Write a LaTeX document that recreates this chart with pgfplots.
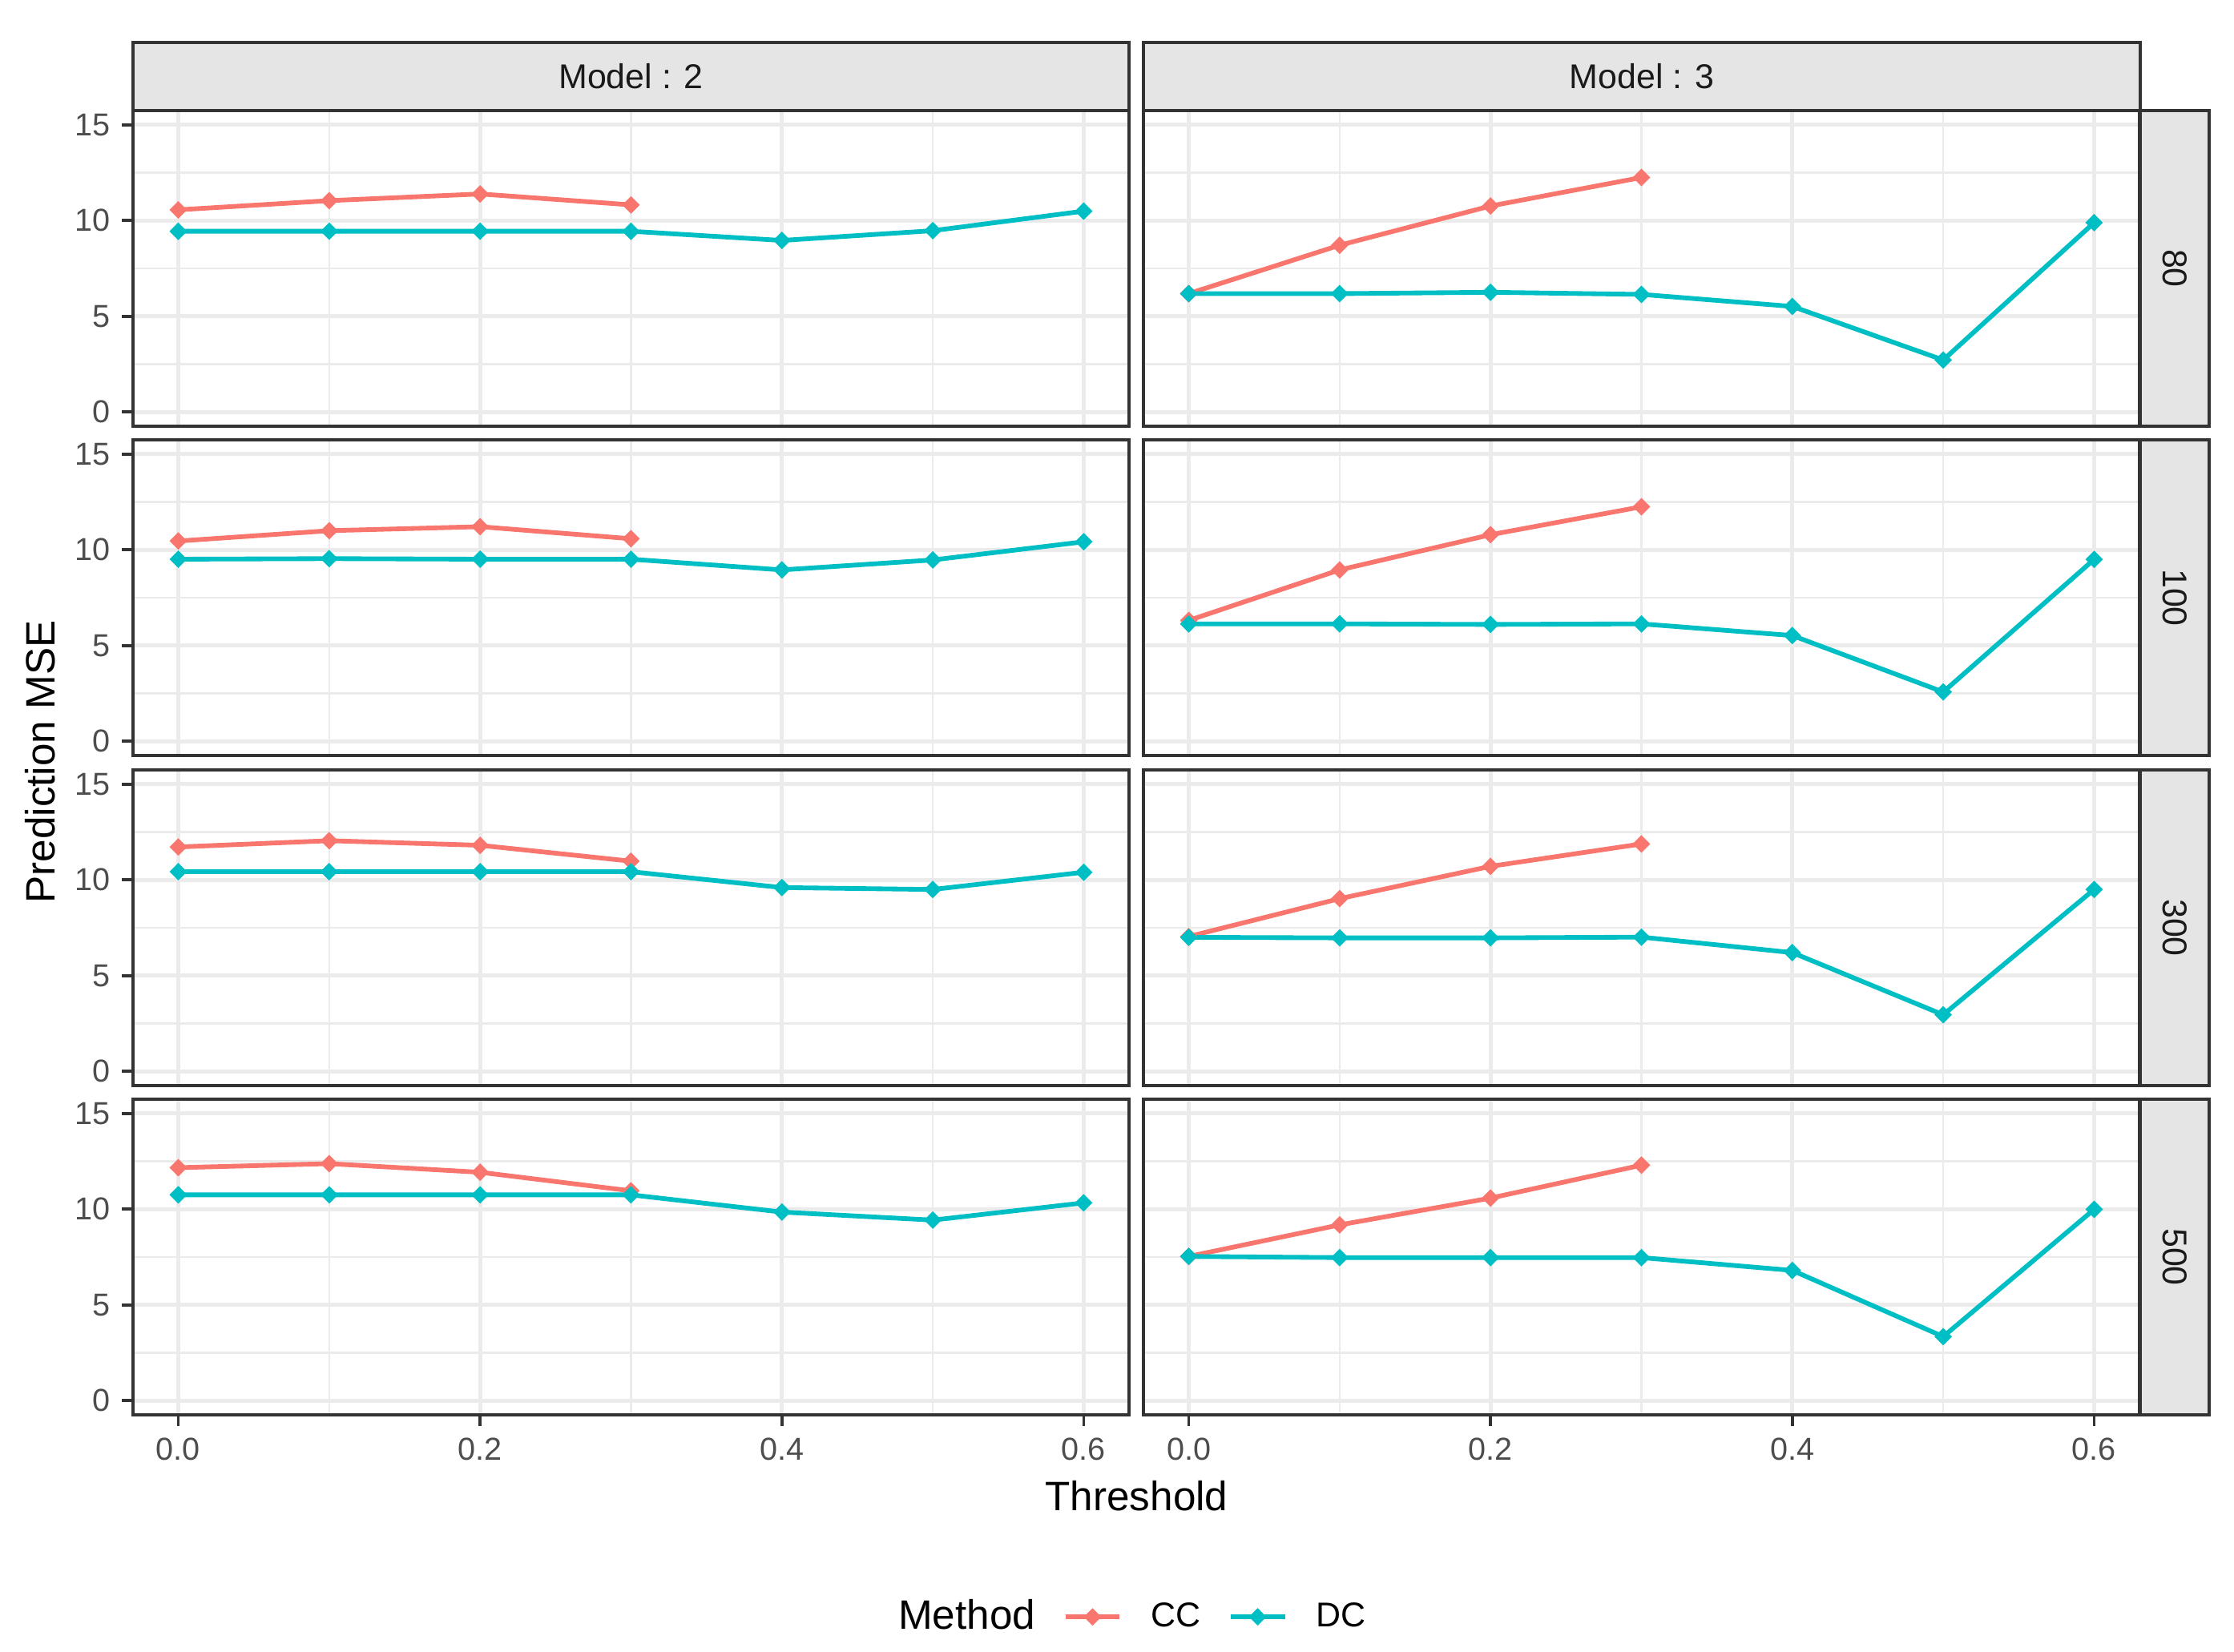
\documentclass[border=0pt]{standalone}
\usepackage{fontspec}
\setmainfont{Liberation Sans}
\usepackage{pgfplots}
\pgfplotsset{compat=1.18}

\definecolor{ccred}{HTML}{F8766D}
\definecolor{dccyan}{HTML}{00BFC4}
\definecolor{gridc}{HTML}{EBEBEB}
\definecolor{gray20}{HTML}{333333}
\definecolor{gray30}{HTML}{4D4D4D}
\definecolor{gray10}{HTML}{1A1A1A}
\definecolor{stripfill}{HTML}{E5E5E5}

\newcommand\tickfont{\fontsize{9.5}{11}\selectfont}
\newcommand\stripfont{\fontsize{10.3}{12}\selectfont}
\newcommand\titlefont{\fontsize{12.3}{14}\selectfont}

\pgfplotsset{
  panel/.style={
    scale only axis, width=298.3pt, height=94.56pt, anchor=north west,
    xmin=-0.03, xmax=0.63, ymin=-0.75, ymax=15.75,
    xtick={0,0.2,0.4,0.6}, ytick={0,5,10,15},
    minor xtick={0.1,0.3,0.5}, minor ytick={2.5,7.5,12.5},
    grid=both,
    major grid style={draw=gridc, line width=1.2pt},
    minor grid style={draw=gridc, line width=0.62pt},
    axis line style={draw=gray20, line width=0.9pt},
    xtick pos=bottom, ytick pos=left,
    tick align=outside, major tick length=3.3pt, minor tick length=0pt,
    tick style={draw=gray20, line width=0.9pt},
    /pgf/number format/assume math mode=true,
    ticklabel style={font=\tickfont, text=gray30},
    xticklabel style={/pgf/number format/.cd, fixed, fixed zerofill, precision=1},
  },
  inner x/.style={xmajorticks=false, xticklabels={}},
  inner y/.style={ymajorticks=false, yticklabels={}},
  ccline/.style={color=ccred, line width=1.4pt, mark=square*, mark size=1.8pt,
    mark options={rotate=45, solid, line width=0.1pt}},
  dcline/.style={color=dccyan, line width=1.4pt, mark=square*, mark size=1.8pt,
    mark options={rotate=45, solid, line width=0.1pt}},
}

\begin{document}
\begin{tikzpicture}
\path (0pt,0pt) rectangle (669.12pt,494.88pt);

% row 1: n = 80
\begin{axis}[panel, inner x, at={(39.84pt,461.76pt)}]
\addplot[ccline] coordinates {(0,10.56) (0.1,11.04) (0.2,11.39) (0.3,10.82)};
\addplot[dcline] coordinates {(0,9.44) (0.1,9.44) (0.2,9.44) (0.3,9.44) (0.4,8.96) (0.5,9.47) (0.6,10.49)};
\end{axis}
\begin{axis}[panel, inner x, inner y, at={(342.48pt,461.76pt)}]
\addplot[ccline] coordinates {(0,6.18) (0.1,8.71) (0.2,10.76) (0.3,12.25)};
\addplot[dcline] coordinates {(0,6.18) (0.1,6.18) (0.2,6.25) (0.3,6.14) (0.4,5.51) (0.5,2.71) (0.6,9.89)};
\end{axis}

% row 2: n = 100
\begin{axis}[panel, inner x, at={(39.84pt,363.12pt)}]
\addplot[ccline] coordinates {(0,10.46) (0.1,11.0) (0.2,11.21) (0.3,10.58)};
\addplot[dcline] coordinates {(0,9.51) (0.1,9.54) (0.2,9.51) (0.3,9.51) (0.4,8.95) (0.5,9.47) (0.6,10.42)};
\end{axis}
\begin{axis}[panel, inner x, inner y, at={(342.48pt,363.12pt)}]
\addplot[ccline] coordinates {(0,6.31) (0.1,8.95) (0.2,10.79) (0.3,12.25)};
\addplot[dcline] coordinates {(0,6.13) (0.1,6.13) (0.2,6.10) (0.3,6.13) (0.4,5.52) (0.5,2.57) (0.6,9.50)};
\end{axis}

% row 3: n = 300
\begin{axis}[panel, inner x, at={(39.84pt,264.24pt)}]
\addplot[ccline] coordinates {(0,11.72) (0.1,12.05) (0.2,11.81) (0.3,10.98)};
\addplot[dcline] coordinates {(0,10.43) (0.1,10.43) (0.2,10.43) (0.3,10.43) (0.4,9.60) (0.5,9.50) (0.6,10.40)};
\end{axis}
\begin{axis}[panel, inner x, inner y, at={(342.48pt,264.24pt)}]
\addplot[ccline] coordinates {(0,7.04) (0.1,9.02) (0.2,10.71) (0.3,11.88)};
\addplot[dcline] coordinates {(0,7.00) (0.1,6.97) (0.2,6.97) (0.3,7.01) (0.4,6.20) (0.5,2.95) (0.6,9.50)};
\end{axis}

% row 4: n = 500 (carries the legend)
\begin{axis}[panel, at={(39.84pt,165.6pt)},
  legend style={at={(0.992,-0.64)}, anchor=center, draw=none, fill=none,
    legend columns=-1, font=\stripfont,
    /tikz/every even column/.append style={column sep=6.3pt},
    /tikz/every odd column/.append style={column sep=6.6pt}},
  legend image code/.code={\draw[mark repeat=2, mark phase=2, #1]
    plot coordinates {(0pt,0pt) (8.15pt,0pt) (16.3pt,0pt)};}]
\addlegendimage{empty legend}
\addplot[ccline] coordinates {(0,12.17) (0.1,12.38) (0.2,11.93) (0.3,10.96)};
\addplot[dcline] coordinates {(0,10.75) (0.1,10.75) (0.2,10.75) (0.3,10.75) (0.4,9.85) (0.5,9.43) (0.6,10.33)};
\legend{{\titlefont Method}, CC, DC}
\end{axis}
\begin{axis}[panel, inner y, at={(342.48pt,165.6pt)}]
\addplot[ccline] coordinates {(0,7.53) (0.1,9.18) (0.2,10.58) (0.3,12.30)};
\addplot[dcline] coordinates {(0,7.53) (0.1,7.47) (0.2,7.47) (0.3,7.47) (0.4,6.80) (0.5,3.34) (0.6,9.99)};
\end{axis}

% strips (top: Model, right: sample size)
\draw[gray20, line width=0.9pt, fill=stripfill] (39.84pt,482.16pt) rectangle (338.16pt,461.76pt);
\draw[gray20, line width=0.9pt, fill=stripfill] (342.48pt,482.16pt) rectangle (641.04pt,461.76pt);
\node[text=gray10, font=\stripfont] at (189pt,472.08pt) {Model : 2};
\node[text=gray10, font=\stripfont] at (491.76pt,472.08pt) {Model : 3};
\foreach \t/\b/\m/\lab in {461.76/367.2/414.48/80, 363.12/268.56/315.84/100,
                           264.24/169.68/216.96/300, 165.6/71.04/118.32/500}{
  \draw[gray20, line width=0.9pt, fill=stripfill] (641.04pt,\t pt) rectangle (661.68pt,\b pt);
  \node[text=gray10, font=\stripfont, rotate=-90] at (651.36pt,\m pt) {\lab};
}

% axis titles
\node[font=\titlefont, rotate=90] at (12pt,266.64pt) {Prediction MSE};
\node[font=\titlefont] at (340.44pt,46.8pt) {Threshold};
\end{tikzpicture}
\end{document}
